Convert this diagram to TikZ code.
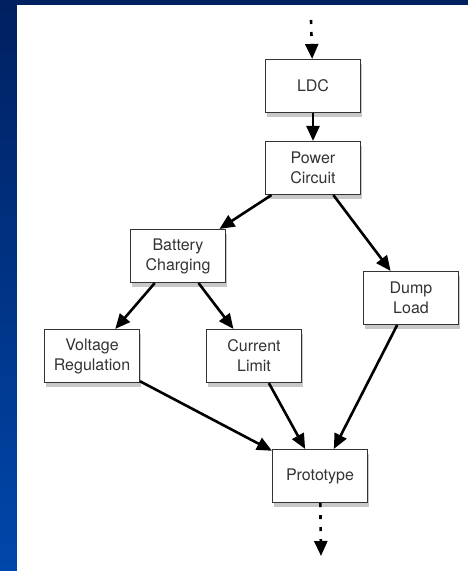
\documentclass[tikz,border=0pt]{standalone}
\usepackage{fontspec}
\setmainfont{TeX Gyre Heros}
\usetikzlibrary{arrows.meta,shadows}
\definecolor{navy}{RGB}{0,32,96}
\definecolor{royal}{RGB}{0,71,171}
\definecolor{ink}{RGB}{51,51,51}

\begin{document}
\begin{tikzpicture}[x=1pt, y=-1pt, -{Triangle[length=15pt,width=13pt]}, line width=2.6pt,
    main node/.style={draw=ink, line width=1.1pt, fill=white, text=ink, align=center,
      minimum width=95pt, minimum height=53pt, font=\fontsize{16}{20}\selectfont,
      drop shadow={opacity=0.3, fill=black!70, shadow xshift=1.5pt, shadow yshift=-4pt}},
    dotted edge/.style={dash pattern=on 4pt off 8pt}]
    % slide background
    \shade[-, top color=navy, bottom color=royal] (0,0) rectangle (468,571);
    \fill[-, white] (17,5) rectangle (468,571);

    \node[main node] (ldc) at (313,86) {LDC};
    \node[main node] (power) at (313,168) {Power\\Circuit};
    \node[main node] (battery) at (178,256) {Battery\\Charging};
    \node[main node] (dump) at (411,298) {Dump\\Load};
    \node[main node] (voltage) at (92,356) {Voltage\\Regulation};
    \node[main node] (current) at (254,356) {Current\\Limit};
    \node[main node] (proto) at (320,476) {Prototype};
    \coordinate (in) at (311,20);
    \coordinate (out) at (321,556);

    \path (ldc) edge (power)
          (power) edge (battery) edge (dump)
          (battery) edge (voltage) edge (current)
          (voltage) edge (proto)
          (current) edge (proto)
          (dump) edge (proto);
    \path[dotted edge] (in) edge (ldc)
          (proto) edge (out);
\end{tikzpicture}
\end{document}
